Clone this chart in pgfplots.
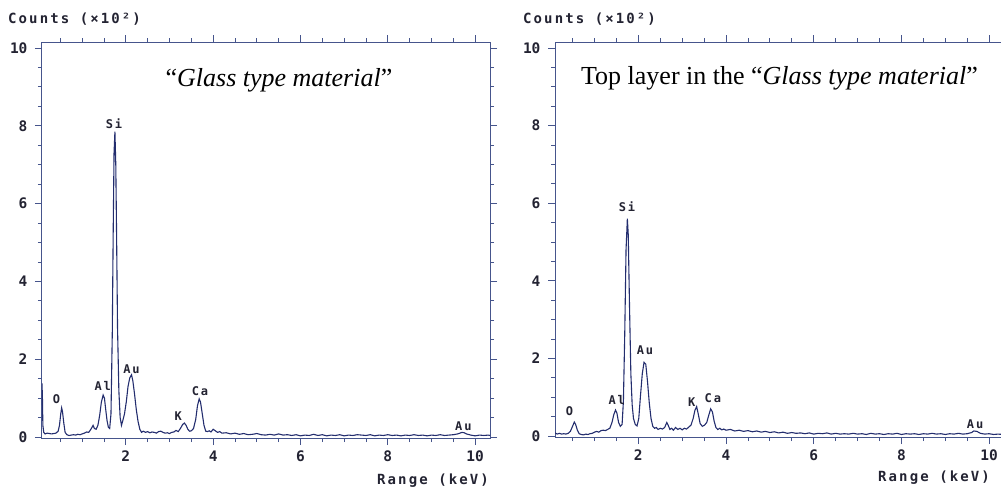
\documentclass[border=0pt]{standalone}
\usepackage{pgfplots}
\pgfplotsset{compat=1.18}
\usepackage{pgfplotstable}
\usepackage{fontspec}
\setmainfont{Liberation Serif}
\newfontfamily\lbl{DejaVu Sans Mono}[LetterSpace=15]
\newfontfamily\tck{DejaVu Sans Mono}
\definecolor{spec}{RGB}{35,45,110}
\definecolor{axc}{RGB}{70,85,140}
\definecolor{txc}{RGB}{35,35,50}

\pgfplotstableread{
x y
0.08 1.38
0.09 1.00
0.10 0.30
0.12 0.12
0.15 0.08
0.20 0.10
0.25 0.09
0.30 0.08
0.35 0.09
0.40 0.10
0.45 0.15
0.48 0.30
0.51 0.60
0.53 0.75
0.55 0.65
0.58 0.35
0.61 0.12
0.65 0.06
0.70 0.04
0.75 0.05
0.80 0.06
0.85 0.05
0.90 0.07
0.95 0.06
1.00 0.08
1.05 0.10
1.10 0.13
1.15 0.12
1.20 0.20
1.25 0.30
1.28 0.22
1.32 0.20
1.36 0.30
1.40 0.55
1.44 0.90
1.48 1.08
1.51 1.00
1.54 0.70
1.57 0.42
1.60 0.25
1.63 0.22
1.66 0.60
1.69 2.70
1.71 5.20
1.73 7.30
1.75 7.85
1.77 7.00
1.79 5.00
1.81 2.80
1.84 1.20
1.87 0.50
1.90 0.30
1.93 0.42
1.97 0.60
2.01 0.90
2.05 1.30
2.09 1.52
2.13 1.60
2.16 1.45
2.20 1.10
2.24 0.70
2.28 0.40
2.32 0.20
2.36 0.12
2.40 0.15
2.45 0.12
2.50 0.14
2.55 0.11
2.60 0.13
2.65 0.12
2.70 0.10
2.75 0.14
2.80 0.15
2.85 0.12
2.90 0.10
2.95 0.11
3.00 0.09
3.05 0.12
3.10 0.13
3.15 0.17
3.20 0.14
3.25 0.22
3.30 0.32
3.34 0.36
3.38 0.30
3.42 0.20
3.46 0.15
3.50 0.16
3.55 0.22
3.60 0.45
3.64 0.80
3.68 0.98
3.71 0.90
3.75 0.60
3.79 0.30
3.83 0.15
3.87 0.14
3.91 0.16
3.95 0.13
4.00 0.20
4.05 0.16
4.10 0.12
4.15 0.14
4.20 0.10
4.30 0.11
4.40 0.08
4.50 0.10
4.60 0.07
4.70 0.09
4.80 0.06
4.90 0.07
5.00 0.09
5.10 0.06
5.20 0.05
5.30 0.07
5.40 0.05
5.50 0.08
5.60 0.05
5.70 0.06
5.80 0.04
5.90 0.06
6.00 0.03
6.10 0.05
6.20 0.04
6.30 0.07
6.40 0.04
6.50 0.06
6.60 0.03
6.70 0.05
6.80 0.04
6.90 0.06
7.00 0.03
7.10 0.05
7.20 0.04
7.30 0.06
7.40 0.05
7.50 0.04
7.60 0.06
7.70 0.03
7.80 0.05
7.90 0.04
8.00 0.06
8.10 0.04
8.20 0.05
8.30 0.03
8.40 0.05
8.50 0.04
8.60 0.06
8.70 0.04
8.80 0.05
8.90 0.03
9.00 0.05
9.10 0.04
9.20 0.06
9.30 0.04
9.40 0.05
9.50 0.06
9.60 0.08
9.70 0.12
9.75 0.11
9.80 0.08
9.90 0.05
10.00 0.03
10.10 0.05
10.20 0.04
10.30 0.05
10.34 0.04
}\glass

\pgfplotstableread{
x y
0.10 0.08
0.15 0.05
0.20 0.07
0.25 0.05
0.30 0.06
0.35 0.05
0.40 0.07
0.45 0.12
0.50 0.25
0.54 0.36
0.57 0.30
0.61 0.15
0.65 0.06
0.70 0.04
0.75 0.03
0.80 0.05
0.85 0.04
0.90 0.06
0.95 0.07
1.00 0.10
1.05 0.12
1.10 0.10
1.15 0.14
1.20 0.15
1.25 0.14
1.30 0.17
1.35 0.20
1.40 0.35
1.44 0.55
1.48 0.67
1.51 0.60
1.55 0.35
1.59 0.25
1.63 0.30
1.66 0.90
1.69 2.60
1.72 4.80
1.75 5.60
1.77 5.20
1.80 3.30
1.83 1.60
1.86 0.80
1.89 0.45
1.93 0.30
1.97 0.26
2.01 0.45
2.05 1.05
2.09 1.60
2.13 1.90
2.17 1.85
2.21 1.40
2.25 0.85
2.29 0.45
2.33 0.25
2.37 0.20
2.41 0.22
2.45 0.17
2.50 0.20
2.55 0.18
2.60 0.22
2.65 0.35
2.68 0.28
2.72 0.17
2.76 0.20
2.80 0.15
2.85 0.22
2.90 0.17
2.95 0.20
3.00 0.16
3.05 0.20
3.10 0.18
3.15 0.23
3.20 0.28
3.25 0.45
3.29 0.66
3.33 0.76
3.37 0.55
3.41 0.32
3.46 0.25
3.51 0.28
3.56 0.35
3.61 0.55
3.65 0.70
3.69 0.62
3.73 0.38
3.77 0.22
3.81 0.17
3.86 0.20
3.90 0.16
3.95 0.18
4.00 0.15
4.10 0.17
4.20 0.13
4.30 0.15
4.40 0.12
4.50 0.14
4.60 0.11
4.70 0.13
4.80 0.10
4.90 0.12
5.00 0.09
5.10 0.11
5.20 0.08
5.30 0.10
5.40 0.07
5.50 0.09
5.60 0.07
5.70 0.08
5.80 0.06
5.90 0.08
6.00 0.05
6.10 0.07
6.20 0.06
6.30 0.08
6.40 0.05
6.50 0.07
6.60 0.05
6.70 0.06
6.80 0.05
6.90 0.07
7.00 0.05
7.10 0.06
7.20 0.04
7.30 0.07
7.40 0.05
7.50 0.06
7.60 0.04
7.70 0.06
7.80 0.05
7.90 0.07
8.00 0.04
8.10 0.06
8.20 0.05
8.30 0.06
8.40 0.04
8.50 0.06
8.60 0.05
8.70 0.07
8.80 0.05
8.90 0.06
9.00 0.04
9.10 0.06
9.20 0.05
9.30 0.07
9.40 0.05
9.50 0.06
9.60 0.09
9.65 0.13
9.72 0.12
9.80 0.07
9.90 0.05
10.00 0.06
10.10 0.04
10.20 0.05
10.33 0.04
}\toplayer

\pgfplotsset{
  eds/.style={
    scale only axis,
    anchor=south west,
    tick align=outside,
    axis line style={axc, line width=1pt},
    every tick/.style={axc, line width=0.9pt},
    major tick length=7pt,
    minor tick length=4pt,
    xtick={2,4,6,8,10},
    ytick={0,2,4,6,8,10},
    minor xtick={0.5,1,...,10},
    minor ytick={0.5,1,...,10},
    ymin=-0.03, ymax=10.15,
    ticklabel style={font=\fontsize{14.5}{14.5}\selectfont\tck\bfseries, text=txc},
    /pgf/number format/assume math mode=true,
    yticklabel style={xshift=-4pt},
    xticklabel style={yshift=-2pt},
  },
}
\tikzset{pk/.style={font=\fontsize{12}{12}\selectfont\lbl\bfseries, text=txc, inner sep=0pt}}

\begin{document}
\begin{tikzpicture}
\useasboundingbox (0pt,0pt) rectangle (1001pt,490pt);

% left panel
\begin{axis}[eds, at={(42pt,51.8pt)}, width=448pt, height=396pt,
  xmin=0.08, xmax=10.34]
\addplot[spec, line width=1.1pt] table[x=x,y=y] {\glass};
\node[pk] at (axis cs:0.41,0.98) {O};
\node[pk] at (axis cs:1.47,1.32) {Al};
\node[pk] at (axis cs:1.73,8.06) {Si};
\node[pk] at (axis cs:2.13,1.75) {Au};
\node[pk] at (axis cs:3.20,0.55) {K};
\node[pk] at (axis cs:3.70,1.19) {Ca};
\node[pk] at (axis cs:9.73,0.28) {Au};
\end{axis}

% right panel
\begin{axis}[eds, at={(555pt,52.8pt)}, width=448.6pt, height=395pt,
  xmin=0.1, xmax=10.33, axis x line*=box, axis y line*=left]
\addplot[spec, line width=1.1pt] table[x=x,y=y] {\toplayer};
\node[pk] at (axis cs:0.43,0.63) {O};
\node[pk] at (axis cs:1.51,0.93) {Al};
\node[pk] at (axis cs:1.74,5.91) {Si};
\node[pk] at (axis cs:2.15,2.20) {Au};
\node[pk] at (axis cs:3.22,0.88) {K};
\node[pk] at (axis cs:3.70,0.97) {Ca};
\node[pk] at (axis cs:9.68,0.31) {Au};
\end{axis}

% axis descriptions
\node[anchor=west, inner sep=0pt, font=\fontsize{14}{14}\selectfont\lbl\bfseries, text=txc] at (8pt,471pt) {Counts (×10²)};
\node[anchor=west, inner sep=0pt, font=\fontsize{14}{14}\selectfont\lbl\bfseries, text=txc] at (523pt,471pt) {Counts (×10²)};
\node[anchor=east, inner sep=0pt, font=\fontsize{14}{14}\selectfont\lbl\bfseries, text=txc] at (489pt,9pt) {Range (keV)};
\node[anchor=east, inner sep=0pt, font=\fontsize{14}{14}\selectfont\lbl\bfseries, text=txc] at (990pt,12pt) {Range (keV)};

% titles
\node[anchor=base, inner sep=0pt, font=\fontsize{26}{26}\selectfont] at (279pt,403.3pt) {“\textit{Glass type material}”};
\node[anchor=base, inner sep=0pt, font=\fontsize{26}{26}\selectfont] at (779.5pt,405pt) {Top layer in the “\textit{Glass type material}”};
\end{tikzpicture}
\end{document}
